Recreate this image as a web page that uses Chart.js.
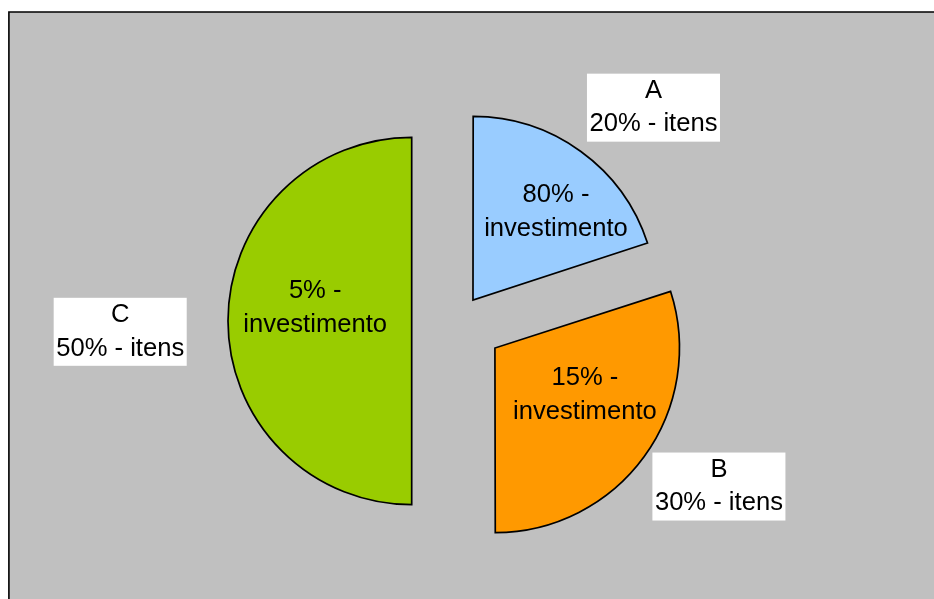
<!DOCTYPE html>
<html>
<head>
<meta charset="utf-8">
<script src="https://cdn.jsdelivr.net/npm/chart.js@4.4.1/dist/chart.umd.min.js"></script>
<style>
  html, body { margin: 0; padding: 0; background: #ffffff; }
  #wrap { position: relative; width: 934px; height: 599px; }
  #wrap canvas { position: absolute; left: 0; top: 0; display: block; }
</style>
</head>
<body>
<div id="wrap">
  <canvas id="cBack" width="934" height="599"></canvas>
  <canvas id="cFront" width="934" height="599"></canvas>
</div>
<script>
// ---- data ----
const categories   = ['A', 'B', 'C'];
const itens        = [20, 30, 50];   // % of items
const investimento = [80, 15, 5];    // % of investment

// ---- styles ----
const sliceColors = ['#99CCFF', '#FF9900', '#99CC00'];
const explodePx   = [26, 46, 46];    // how far each slice is pulled out (px)
// A and B are drawn by the front chart (Chart.js offset), C (a half circle) by the back chart,
// whose centre is moved by the explosion distance instead of using the arc offset.
const frontSlices = [true, true, false];

const FONT = '25.6px "Liberation Sans", Arial, Helvetica, sans-serif';
const LINE = 33.4;
const basePadding = { left: 0, right: 18.6, top: 43, bottom: 0 };

// label placement relative to each slice's tip (px)
const innerLabelShift = [[83, -81], [90, 54], [-96.5, -6]];
const outerLabelShift = [[180.5, -185.3], [224, 145.5], [-291.5, 17.8]];

const background = {
  id: 'background',
  beforeDraw(chart) {
    const { ctx, width, height } = chart;
    ctx.save();
    ctx.fillStyle = '#ffffff';
    ctx.fillRect(0, 0, width, height);
    ctx.fillStyle = '#C0C0C0';
    ctx.fillRect(9, 12, width, height);
    ctx.strokeStyle = '#000000';
    ctx.lineWidth = 1.6;
    ctx.beginPath();
    ctx.moveTo(8.9, height + 2);
    ctx.lineTo(8.9, 12);
    ctx.lineTo(width + 2, 12);
    ctx.stroke();
    ctx.restore();
  }
};

function pieDataset(front) {
  const show = categories.map((_, i) => frontSlices[i] === front);
  return {
    data: itens,
    backgroundColor: show.map((s, i) => s ? sliceColors[i] : 'transparent'),
    borderColor: show.map(s => s ? '#000000' : 'transparent'),
    borderWidth: show.map(s => s ? 1.7 : 0),
    borderJoinStyle: 'miter',
    offset: show.map((s, i) => s && front ? explodePx[i] * 4 : 0)
  };
}

// back chart: slice C; its centre is moved left by C's explosion distance
const backChart = new Chart(document.getElementById('cBack'), {
  type: 'pie',
  data: { labels: categories, datasets: [pieDataset(false)] },
  options: {
    responsive: false,
    animation: false,
    events: [],
    devicePixelRatio: 1,
    radius: 183.7,
    layout: { padding: {
      left: basePadding.left, right: basePadding.right + 2 * explodePx[2],
      top: basePadding.top, bottom: basePadding.bottom } },
    plugins: { legend: { display: false }, tooltip: { enabled: false } }
  },
  plugins: [background]
});

function sliceTip(frontChart, i) {
  const chart = frontSlices[i] ? frontChart : backChart;
  const el = chart.getDatasetMeta(0).data[i];
  const mid = (el.startAngle + el.endAngle) / 2;
  const sh = (el.options.offset || 0) / 4;
  return { x: el.x + Math.cos(mid) * sh, y: el.y + Math.sin(mid) * sh };
}

const sliceLabels = {
  id: 'sliceLabels',
  afterDatasetsDraw(chart) {
    const ctx = chart.ctx;
    ctx.save();
    ctx.font = FONT;
    ctx.textAlign = 'center';
    ctx.textBaseline = 'alphabetic';
    categories.forEach((cat, i) => {
      const tip = sliceTip(chart, i);

      const ix = tip.x + innerLabelShift[i][0];
      const iy = tip.y + innerLabelShift[i][1];
      ctx.fillStyle = '#000000';
      ctx.fillText(investimento[i] + '% -', ix, iy - LINE / 2);
      ctx.fillText('investimento', ix, iy + LINE / 2);

      const ox = tip.x + outerLabelShift[i][0];
      const oy = tip.y + outerLabelShift[i][1];
      const l1 = cat;
      const l2 = itens[i] + '% - itens';
      const w = Math.max(ctx.measureText(l1).width, ctx.measureText(l2).width) + 5;
      ctx.fillStyle = '#ffffff';
      ctx.fillRect(ox - w / 2, oy - 41, w, 68);
      ctx.fillStyle = '#000000';
      ctx.fillText(l1, ox, oy - LINE / 2);
      ctx.fillText(l2, ox, oy + LINE / 2);
    });
    ctx.restore();
  }
};

// front chart: slices A and B (exploded with Chart.js offsets) and all labels
new Chart(document.getElementById('cFront'), {
  type: 'pie',
  data: { labels: categories, datasets: [pieDataset(true)] },
  options: {
    responsive: false,
    animation: false,
    events: [],
    devicePixelRatio: 1,
    radius: 182.3,
    layout: { padding: basePadding },
    plugins: { legend: { display: false }, tooltip: { enabled: false } }
  },
  plugins: [sliceLabels]
});
</script>
</body>
</html>
